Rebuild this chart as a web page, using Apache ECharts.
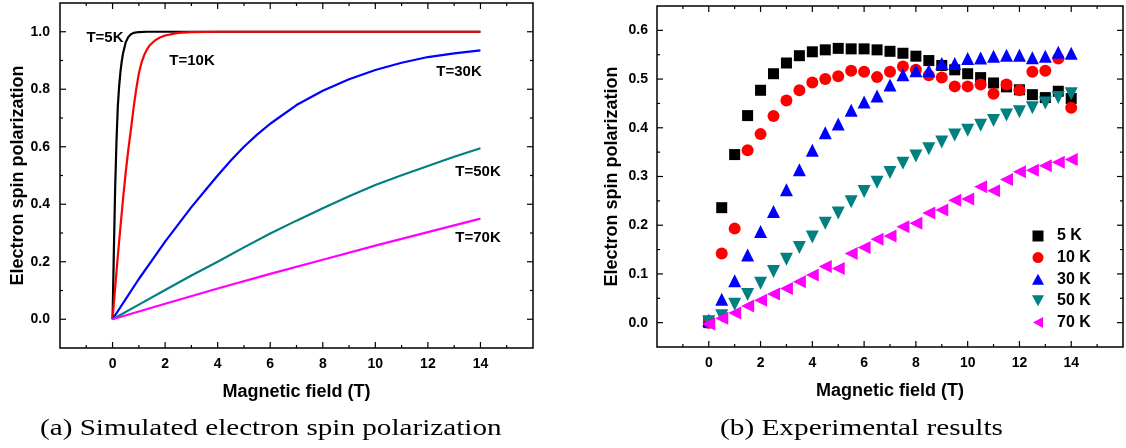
<!DOCTYPE html>
<html>
<head>
<meta charset="utf-8">
<script src="https://cdn.jsdelivr.net/npm/echarts@6.0.0/dist/echarts.min.js"></script>
<style>
  html, body { margin: 0; padding: 0; background: #fff; }
  #chart { width: 1126px; height: 448px; }
</style>
</head>
<body>
<div id="chart"></div>
<script>
// ---------- Data ----------
// (a) simulated curves: magnetic field (T) and polarization
const sim5K_B  = [0, 0.05, 0.1, 0.15, 0.2, 0.25, 0.3, 0.35, 0.4, 0.5, 0.6, 0.7, 0.8, 1.0, 1.3, 14];
const sim5K_P  = [0, 0.24, 0.46, 0.62, 0.74, 0.81, 0.86, 0.898, 0.925, 0.963, 0.982, 0.991, 0.996, 0.999, 1.0, 1.0];
const sim10K_B = [0, 0.1, 0.2, 0.3, 0.4, 0.5, 0.6, 0.7, 0.8, 0.9, 1.0, 1.1, 1.2, 1.3, 1.4, 1.6, 1.8, 2.0, 2.5, 3, 4, 14];
const sim10K_P = [0, 0.11, 0.22, 0.32, 0.42, 0.51, 0.59, 0.66, 0.735, 0.80, 0.855, 0.892, 0.918, 0.937, 0.951, 0.969, 0.98, 0.987, 0.996, 0.999, 1.0, 1.0];
const sim30K_B = [0, 0.5, 1, 1.5, 2, 2.5, 3, 3.5, 4, 4.5, 5, 5.5, 6, 7, 8, 9, 10, 11, 12, 13, 14];
const sim30K_P = [0, 0.07, 0.14, 0.205, 0.27, 0.33, 0.39, 0.445, 0.50, 0.552, 0.60, 0.642, 0.68, 0.745, 0.795, 0.835, 0.867, 0.892, 0.912, 0.925, 0.935];
const sim50K_B = [0, 1, 2, 3, 4, 5, 6, 7, 8, 9, 10, 11, 12, 13, 14];
const sim50K_P = [0, 0.051, 0.102, 0.152, 0.20, 0.25, 0.298, 0.343, 0.386, 0.428, 0.467, 0.501, 0.533, 0.565, 0.595];
const sim70K_B = [0, 2, 4, 6, 8, 10, 12, 14];
const sim70K_P = [0, 0.054, 0.107, 0.158, 0.207, 0.256, 0.303, 0.35];

// (b) experimental results
const expB = [0, 0.5, 1, 1.5, 2, 2.5, 3, 3.5, 4, 4.5, 5, 5.5, 6, 6.5, 7, 7.5, 8, 8.5, 9, 9.5, 10, 10.5, 11, 11.5, 12, 12.5, 13, 13.5, 14];
const exp5K  = [0.0, 0.236, 0.345, 0.425, 0.477, 0.511, 0.533, 0.548, 0.556, 0.560, 0.563, 0.562, 0.562, 0.560, 0.557, 0.553, 0.547, 0.538, 0.528, 0.519, 0.511, 0.503, 0.492, 0.484, 0.478, 0.468, 0.462, 0.475, 0.460];
const exp10K = [0.0, 0.142, 0.193, 0.354, 0.387, 0.424, 0.456, 0.477, 0.493, 0.500, 0.506, 0.517, 0.515, 0.504, 0.515, 0.526, 0.519, 0.508, 0.503, 0.485, 0.485, 0.489, 0.470, 0.489, 0.477, 0.515, 0.517, 0.542, 0.441];
const exp30K = [0.005, 0.048, 0.086, 0.139, 0.187, 0.228, 0.273, 0.314, 0.354, 0.390, 0.408, 0.436, 0.453, 0.465, 0.488, 0.509, 0.517, 0.517, 0.532, 0.532, 0.542, 0.543, 0.547, 0.549, 0.549, 0.544, 0.547, 0.555, 0.553];
const exp50K = [0.002, 0.014, 0.038, 0.058, 0.081, 0.105, 0.130, 0.154, 0.176, 0.204, 0.225, 0.248, 0.269, 0.288, 0.308, 0.327, 0.342, 0.357, 0.371, 0.385, 0.395, 0.405, 0.415, 0.426, 0.433, 0.441, 0.451, 0.462, 0.470];
const exp70K = [-0.003, 0.009, 0.020, 0.034, 0.046, 0.059, 0.070, 0.084, 0.098, 0.115, 0.111, 0.142, 0.154, 0.171, 0.178, 0.197, 0.204, 0.225, 0.231, 0.251, 0.254, 0.279, 0.271, 0.294, 0.310, 0.313, 0.322, 0.329, 0.335];

// tick labels
const xTickLabels = [0, 2, 4, 6, 8, 10, 12, 14];
const leftYTickLabels = [0, 0.2, 0.4, 0.6, 0.8, 1.0];
const rightYTickLabels = [0, 0.1, 0.2, 0.3, 0.4, 0.5, 0.6];

const simNames = ['T=5K', 'T=10K', 'T=30K', 'T=50K', 'T=70K'];
const expNames = ['5 K', '10 K', '30 K', '50 K', '70 K'];

// ---------- Styling / layout ----------
const FONT = "'Liberation Sans', Arial, Helvetica, sans-serif";
const SERIF = "'Liberation Serif', 'Times New Roman', serif";
const colors = ['#000000', '#ff0000', '#0000ff', '#008080', '#ff00ff'];
const near = (v, list) => list.some(t => Math.abs(t - v) < 1e-6);
const isMult = (v, m) => Math.abs(v / m - Math.round(v / m)) < 1e-6;
function steps(min, max, step) {
  const out = [];
  const n = Math.round((max - min) / step);
  for (let i = 0; i <= n; i++) out.push(+(min + i * step).toFixed(6));
  return out;
}

// axis extents / tick steps per panel
const panels = [
  { x: [-2, 16, 1, 2], y: [-0.1, 1.1, 0.1, 0.2], yLabels: leftYTickLabels, yNameGap: 32, yMargin: 10 },
  { x: [-2, 16, 1, 2], y: [-0.05, 0.65, 0.05, 0.1], yLabels: rightYTickLabels, yNameGap: 36, yMargin: 9 }
];

const nameStyle = { color: '#000', fontFamily: FONT, fontWeight: 'bold', fontSize: 18 };
const labelStyle = { color: '#000', fontFamily: FONT, fontWeight: 'bold', fontSize: 14 };

const xAxes = panels.map((p, gi) => ({
  type: 'value', gridIndex: gi, position: 'bottom', min: p.x[0], max: p.x[1], interval: p.x[3],
  axisLine: { show: false, onZero: false }, axisTick: { show: false }, splitLine: { show: false },
  axisLabel: Object.assign({ show: true, margin: 9,
    formatter: v => near(v, xTickLabels) ? String(Math.round(v)) : '' }, labelStyle),
  name: 'Magnetic field (T)', nameLocation: 'middle', nameGap: 35, nameTextStyle: nameStyle
}));
const yAxes = panels.map((p, gi) => ({
  type: 'value', gridIndex: gi, position: 'left', min: p.y[0], max: p.y[1], interval: p.y[2],
  axisLine: { show: false, onZero: false }, axisTick: { show: false }, splitLine: { show: false },
  axisLabel: Object.assign({ show: true, margin: p.yMargin,
    formatter: v => near(v, p.yLabels) ? v.toFixed(1) : '' }, labelStyle),
  name: 'Electron spin polarization', nameLocation: 'middle', nameGap: p.yNameGap, nameTextStyle: nameStyle
}));

const simB = [sim5K_B, sim10K_B, sim30K_B, sim50K_B, sim70K_B];
const simP = [sim5K_P, sim10K_P, sim30K_P, sim50K_P, sim70K_P];
const expP = [exp5K, exp10K, exp30K, exp50K, exp70K];
const expSymbols = [
  { symbol: 'rect', size: 11, rotate: 0 },
  { symbol: 'circle', size: 12, rotate: 0 },
  { symbol: 'triangle', size: 13, rotate: 0 },
  { symbol: 'triangle', size: 13, rotate: 180 },
  { symbol: 'triangle', size: 13, rotate: 90 }
];
const legendIcons = [
  'path://M0,0L10,0L10,10L0,10Z',
  'circle',
  'triangle',
  'path://M0,0L12,0L6,11Z',
  'path://M0,6L11,0L11,12Z'
];

const series = [];
simNames.forEach((n, i) => {
  series.push({
    name: n, type: 'line', xAxisIndex: 0, yAxisIndex: 0,
    data: simB[i].map((b, j) => [b, simP[i][j]]),
    showSymbol: false, smooth: false,
    lineStyle: { color: colors[i], width: 2.2 },
    itemStyle: { color: colors[i] },
    silent: true, animation: false
  });
});
expNames.forEach((n, i) => {
  series.push({
    name: n, type: 'scatter', xAxisIndex: 1, yAxisIndex: 1,
    data: expB.map((b, j) => [b, expP[i][j]]),
    symbol: expSymbols[i].symbol, symbolSize: expSymbols[i].size, symbolRotate: expSymbols[i].rotate,
    itemStyle: { color: colors[i], opacity: 1 },
    silent: true, animation: false
  });
});

const gridFrame = { show: true, borderColor: '#000', borderWidth: 1.5, backgroundColor: 'transparent' };
const option = {
  backgroundColor: '#fff',
  animation: false,
  grid: [
    Object.assign({ left: 60, right: 593, top: 3, bottom: 100 }, gridFrame),
    Object.assign({ left: 657, right: 3, top: 6, bottom: 101 }, gridFrame)
  ],
  xAxis: xAxes,
  yAxis: yAxes,
  legend: {
    data: expNames.map((n, i) => ({ name: n, icon: legendIcons[i] })),
    orient: 'vertical', left: 1027, top: 223,
    itemWidth: 12, itemHeight: 11, itemGap: 5.6,
    selectedMode: false,
    textStyle: { color: '#000', fontFamily: FONT, fontWeight: 'bold', fontSize: 16, lineHeight: 14, padding: [0, 0, 0, 8] }
  },
  series
};

const chart = echarts.init(document.getElementById('chart'), null, { renderer: 'canvas' });
chart.setOption(option);

// ---------- Inward ticks on all four sides, placed through the axes' own scales ----------
const annot = (text, x, y) => ({
  type: 'text', x, y, silent: true, z: 20,
  style: { text, fill: '#000', font: "bold 15px " + FONT, textAlign: 'center', textVerticalAlign: 'middle' }
});
const graphics = [
  annot('T=5K', 105, 38),
  annot('T=10K', 192, 61),
  annot('T=30K', 459, 72),
  annot('T=50K', 478, 172),
  annot('T=70K', 478, 238),
  { type: 'text', x: 40, y: 429, scaleX: 1.215, silent: true,
    style: { text: '(a) Simulated electron spin polarization', fill: '#000', font: "24px " + SERIF, textVerticalAlign: 'middle' } },
  { type: 'text', x: 720, y: 429, scaleX: 1.22, silent: true,
    style: { text: '(b) Experimental results', fill: '#000', font: "24px " + SERIF, textVerticalAlign: 'middle' } }
];
const addTick = (x1, y1, x2, y2) => graphics.push({
  type: 'line', silent: true, z: 20,
  shape: { x1, y1, x2, y2 }, style: { stroke: '#000', lineWidth: 1.2 }
});
panels.forEach((p, gi) => {
  const [xMin, xMax, xMinor, xMajor] = p.x;
  const [yMin, yMax, yMinor, yMajor] = p.y;
  const bl = chart.convertToPixel({ gridIndex: gi }, [xMin, yMin]);
  const tr = chart.convertToPixel({ gridIndex: gi }, [xMax, yMax]);
  if (!bl || !tr) return;
  const left = bl[0], bottom = bl[1], right = tr[0], top = tr[1];
  steps(xMin, xMax, xMinor).forEach(v => {
    if (Math.abs(v - xMin) < 1e-6 || Math.abs(v - xMax) < 1e-6) return;
    const px = chart.convertToPixel({ gridIndex: gi }, [v, yMin])[0];
    const len = isMult(v, xMajor) ? 6 : 3;
    addTick(px, bottom, px, bottom - len);
    addTick(px, top, px, top + len);
  });
  steps(yMin, yMax, yMinor).forEach(v => {
    if (Math.abs(v - yMin) < 1e-6 || Math.abs(v - yMax) < 1e-6) return;
    const py = chart.convertToPixel({ gridIndex: gi }, [xMin, v])[1];
    const len = isMult(v, yMajor) ? 6 : 3;
    addTick(left, py, left + len, py);
    addTick(right, py, right - len, py);
  });
});
chart.setOption({ graphic: graphics });
</script>
</body>
</html>
